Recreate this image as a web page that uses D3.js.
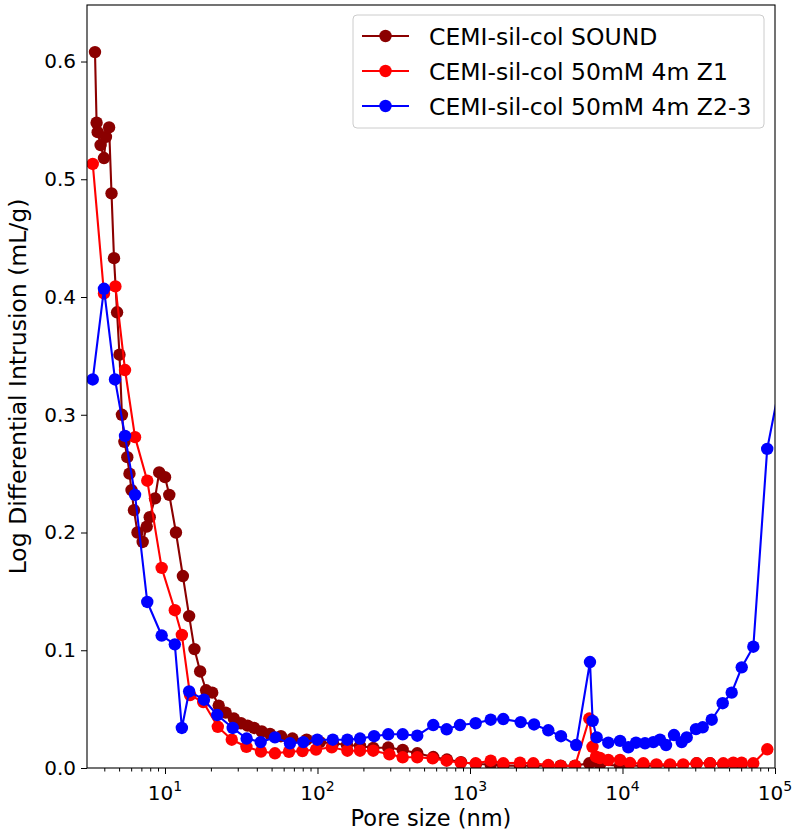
<!DOCTYPE html>
<html><head><meta charset="utf-8">
<script src="https://cdn.jsdelivr.net/npm/d3@7"></script>
<style>body{margin:0;background:#fff}text{font-family:"DejaVu Sans",sans-serif}</style>
</head><body>
<svg id="chart" width="795" height="832"></svg>
<script>
// ---- data ----
const seriesNames = ["CEMI-sil-col SOUND", "CEMI-sil-col 50mM 4m Z1", "CEMI-sil-col 50mM 4m Z2-3"];
const seriesColors = ["#8b0000", "#ff0000", "#0000ff"];

const soundPore = [3.475,3.56,3.62,3.78,3.98,4.10,4.30,4.46,4.63,4.85,5.03,5.22,5.42,5.66,5.85,6.03,6.26,6.60,7.14,7.59,7.94,8.60,9.16,10.0,10.67,11.8,13.1,14.4,15.6,17.0,18.6,20.4,22.5,25.0,28.3,31.5,34.8,38.4,43.1,48.8,57.6,68.5,84.9,103.8,126.4,156,190,232,291,362,451,574,706,873,1094,1367,1653,2127,2602,3262,3934,4883,6057,7110,9640,13700,20500,30600,37500,45800,60400];
const soundValue = [0.608,0.548,0.540,0.529,0.518,0.536,0.544,0.488,0.433,0.387,0.351,0.300,0.277,0.264,0.250,0.236,0.219,0.200,0.192,0.205,0.213,0.229,0.251,0.247,0.232,0.200,0.163,0.129,0.101,0.082,0.066,0.064,0.053,0.047,0.042,0.038,0.036,0.034,0.031,0.029,0.027,0.025,0.024,0.022,0.021,0.0195,0.0187,0.017,0.0174,0.0153,0.0125,0.0093,0.0072,0.005,0.0034,0.003,0.002,0.002,0.002,0.002,0.002,0.002,0.004,0.003,0.002,0.002,0.002,0.004,0.004,0.003,0.003];

const z1Pore = [3.36,3.98,4.73,5.47,6.36,7.65,9.51,11.6,12.9,14.6,17.8,22.2,27.4,34.2,42.6,52.6,65.0,79.7,97.8,124,157,190,232,296,362,451,569,703,869,1090,1367,1653,2127,2602,3262,3934,4883,6057,6357,6700,7110,8070,9640,11200,13700,16700,20500,25000,30600,37500,45800,53300,60400,72000,89000];
const z1Value = [0.513,0.403,0.409,0.338,0.281,0.244,0.170,0.134,0.113,0.062,0.056,0.035,0.024,0.018,0.014,0.0125,0.0138,0.0144,0.0157,0.0176,0.0147,0.0147,0.0147,0.0116,0.0091,0.0091,0.0082,0.0062,0.0045,0.0040,0.0062,0.0040,0.0045,0.0040,0.0025,0.0017,0.0017,0.042,0.018,0.0096,0.0085,0.0068,0.0068,0.0042,0.0040,0.0031,0.0031,0.0031,0.004,0.004,0.004,0.0045,0.0045,0.004,0.0159];

const z23Pore = [3.36,3.98,4.70,5.47,6.36,7.65,9.51,11.6,12.9,14.4,18.0,22.0,27.8,34.3,42.4,52.6,66.0,80.7,99.7,126,157,190,235,291,362,451,574,703,860,1089,1367,1653,2149,2630,3262,3950,4970,6120,6370,6770,8070,9640,10920,12260,14050,15930,17620,19300,21760,24440,26360,30330,33570,38460,45400,52000,60500,72100,88900,112700];
const z23Value = [0.330,0.407,0.330,0.282,0.232,0.141,0.1125,0.105,0.034,0.065,0.058,0.045,0.034,0.025,0.022,0.026,0.021,0.022,0.024,0.024,0.024,0.025,0.027,0.0286,0.0286,0.0274,0.0365,0.0329,0.0365,0.038,0.041,0.0416,0.039,0.037,0.032,0.027,0.0195,0.090,0.040,0.026,0.0215,0.023,0.0176,0.0215,0.021,0.022,0.024,0.0195,0.028,0.022,0.026,0.033,0.0346,0.041,0.055,0.064,0.0855,0.103,0.271,0.339];

const xMajorTicks = [10, 100, 1000, 10000, 100000];
const xMajorExp = ["1", "2", "3", "4", "5"];
const yTicks = [0.0, 0.1, 0.2, 0.3, 0.4, 0.5, 0.6];
const yTickLabels = ["0.0", "0.1", "0.2", "0.3", "0.4", "0.5", "0.6"];
const xLabel = "Pore size (nm)";
const yLabel = "Log Differential Intrusion (mL/g)";

// ---- layout ----
const L = 87, R = 775, T = 5, B = 768;
const svg = d3.select("#chart");
const x = d3.scaleLog().domain([3.08, 100000]).range([L, R]);
const y = d3.scaleLinear().domain([0, 0.648]).range([B, T]);

const series = [
  {name: seriesNames[0], color: seriesColors[0], pts: soundPore.map((p, i) => [p, soundValue[i]])},
  {name: seriesNames[1], color: seriesColors[1], pts: z1Pore.map((p, i) => [p, z1Value[i]])},
  {name: seriesNames[2], color: seriesColors[2], pts: z23Pore.map((p, i) => [p, z23Value[i]])}
];

svg.append("defs").append("clipPath").attr("id", "clip")
  .append("rect").attr("x", L).attr("y", T).attr("width", R - L).attr("height", B - T);

const plot = svg.append("g").attr("clip-path", "url(#clip)");
const line = d3.line().x(d => x(d[0])).y(d => y(d[1]));
series.forEach(s => {
  const g = plot.append("g");
  g.append("path").attr("d", line(s.pts)).attr("fill", "none")
    .attr("stroke", s.color).attr("stroke-width", 2.1).attr("stroke-linejoin", "round");
  g.selectAll("circle").data(s.pts).join("circle")
    .attr("cx", d => x(d[0])).attr("cy", d => y(d[1])).attr("r", 6.2).attr("fill", s.color);
});

// ---- axes ----
const xAxis = svg.append("g").attr("transform", `translate(0,${B})`)
  .call(d3.axisBottom(x).tickValues(xMajorTicks).tickSize(6).tickFormat(""));
xAxis.select(".domain").remove();
const minor = [];
for (let e = 0; e < 5; e++) for (let m = 2; m <= 9; m++) {
  const v = m * Math.pow(10, e);
  if (v > 3.08 && v < 100000) minor.push(v);
}
svg.append("g").attr("transform", `translate(0,${B})`)
  .call(d3.axisBottom(x).tickValues(minor).tickSize(3.5).tickFormat(""))
  .select(".domain").remove();

xMajorTicks.forEach((v, i) => {
  const t = svg.append("text").attr("x", x(v)).attr("y", 800).attr("text-anchor", "middle")
    .attr("font-size", 20).attr("fill", "#000");
  t.append("tspan").text("10");
  t.append("tspan").attr("dy", -9).attr("font-size", 14).text(xMajorExp[i]);
});

const yAxis = svg.append("g").attr("transform", `translate(${L},0)`)
  .call(d3.axisLeft(y).tickValues(yTicks).tickSize(6).tickFormat((d, i) => yTickLabels[i]));
yAxis.select(".domain").remove();
yAxis.selectAll("text").attr("font-size", 20).attr("font-family", "DejaVu Sans").attr("fill", "#000").attr("x", -11);
svg.selectAll(".tick line").attr("stroke", "#000").attr("stroke-width", 1);

svg.append("rect").attr("x", L).attr("y", T).attr("width", R - L).attr("height", B - T)
  .attr("fill", "none").attr("stroke", "#000").attr("stroke-width", 1.1);

svg.append("text").attr("x", (L + R) / 2).attr("y", 826).attr("text-anchor", "middle")
  .attr("font-size", 22.5).text(xLabel);
svg.append("text").attr("transform", `translate(26,${(T + B) / 2}) rotate(-90)`)
  .attr("text-anchor", "middle").attr("font-size", 23.5).text(yLabel);

// ---- legend ----
const lg = svg.append("g");
lg.append("rect").attr("x", 353).attr("y", 15).attr("width", 411).attr("height", 113)
  .attr("rx", 4).attr("fill", "#fff").attr("fill-opacity", 0.8)
  .attr("stroke", "#cccccc").attr("stroke-width", 1);
series.forEach((s, i) => {
  const cy = 36 + i * 35;
  lg.append("line").attr("x1", 362).attr("x2", 409).attr("y1", cy).attr("y2", cy)
    .attr("stroke", s.color).attr("stroke-width", 2.1);
  lg.append("circle").attr("cx", 385.5).attr("cy", cy).attr("r", 6.2).attr("fill", s.color);
  lg.append("text").attr("x", 429).attr("y", cy + 8.5).attr("font-size", 23.5).text(s.name);
});
</script>
</body></html>
